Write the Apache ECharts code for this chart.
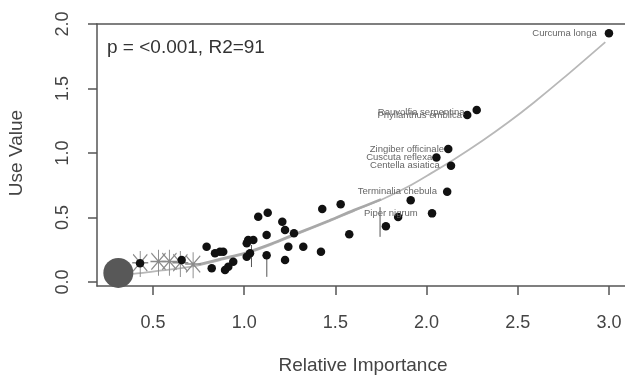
<!DOCTYPE html>
<html><head><meta charset="utf-8">
<script src="https://cdn.jsdelivr.net/npm/echarts@6/dist/echarts.min.js"></script>
<style>html,body{margin:0;padding:0;background:#fff}#c{width:625px;height:379px}</style>
</head><body><div id="c"></div>
<script>
// ---- data ----
const xTicks = [0.5, 1.0, 1.5, 2.0, 2.5, 3.0];
const yTicks = [0.0, 0.5, 1.0, 1.5, 2.0];
const pointX = [3.00, 2.275, 2.223, 2.119, 2.054, 2.134, 2.113, 1.913, 2.030, 1.844, 1.777,
  1.529, 1.428, 1.576, 1.421, 1.324, 1.242, 1.224, 1.273, 1.224, 1.209, 1.129, 1.077, 1.123, 1.123,
  1.050, 1.022, 1.014, 1.032, 1.014, 0.940, 0.913, 0.895, 0.885, 0.867, 0.840, 0.822, 0.794, 0.657, 0.429];
const pointY = [1.928, 1.333, 1.295, 1.031, 0.966, 0.902, 0.700, 0.633, 0.532, 0.504, 0.432,
  0.602, 0.566, 0.370, 0.235, 0.274, 0.274, 0.171, 0.377, 0.403, 0.467, 0.537, 0.506, 0.364, 0.207,
  0.326, 0.326, 0.300, 0.222, 0.196, 0.157, 0.119, 0.093, 0.235, 0.235, 0.222, 0.106, 0.274, 0.171, 0.145];
const pointName = ['Curcuma longa', 'Rauvolfia serpentina', 'Phyllanthus emblica', 'Zingiber officinale',
  'Cuscuta reflexa', 'Centella asiatica', 'Terminalia chebula', '', 'Piper nigrum'];
const curveX = [0.33, 0.43, 0.55, 0.71, 0.87, 1.015, 1.15, 1.28, 1.465, 1.60, 1.764, 1.90, 2.024, 2.15, 2.306, 2.45, 2.587, 2.75, 2.98];
const curveY = [0.055, 0.068, 0.09, 0.12, 0.17, 0.222, 0.29, 0.365, 0.47, 0.55, 0.645, 0.74, 0.842, 0.95, 1.095, 1.24, 1.39, 1.58, 1.86];
const bandX = [0.75, 0.87, 1.015, 1.15, 1.28, 1.465, 1.60, 1.75];
const bandY = [0.135, 0.178, 0.23, 0.297, 0.372, 0.476, 0.556, 0.64];
const blobX = [0.31], blobY = [0.07];
const sketchX = [0.43, 0.53, 0.59, 0.65, 0.72];
const sketchY = [0.14, 0.15, 0.15, 0.14, 0.13];
const leaderX = [1.124, 1.745, 1.04];
const leaderTop = [0.195, 0.58, 0.287];
const leaderBottom = [0.04, 0.35, 0.116];

const labelDist = {0: 8, 1: 8, 2: 1, 3: 0, 4: 0, 5: 7, 6: 6, 8: 10};
const pts = pointX.map((x, i) => {
  const item = { value: [x, pointY[i]] };
  if (pointName[i]) {
    item.label = { show: true, formatter: pointName[i], position: 'left', distance: labelDist[i],
      offset: i === 1 ? [0, 2] : [0, 0] };
  }
  return item;
});
const font = "'Liberation Sans', Arial, sans-serif";
const series = [
  { type: 'line', data: curveX.map((x, i) => [x, curveY[i]]), smooth: 0.3, symbol: 'none',
    lineStyle: { color: '#b8b8b8', width: 1.8 }, z: 2 },
  { type: 'line', data: bandX.map((x, i) => [x, bandY[i]]), smooth: 0.3, symbol: 'none',
    lineStyle: { color: '#a8a8a8', width: 2.5 }, z: 2 },
  { type: 'scatter', data: blobX.map((x, i) => [x, blobY[i]]), symbolSize: 30,
    itemStyle: { color: '#585858', opacity: 1 }, z: 3 },
  { type: 'scatter', data: sketchX.map((x, i) => [x, sketchY[i]]), symbolSize: [16, 26],
    symbol: 'path://M0,-10L0,12M-8,-7L8,7M-8,7L8,-7M-9,0L9,0',
    itemStyle: { color: 'rgba(0,0,0,0)', borderColor: '#8a8a8a', borderWidth: 1.2, opacity: 1 }, z: 3 },
  { type: 'scatter', data: pts, symbolSize: 8.5, itemStyle: { color: '#111', opacity: 1 }, z: 5,
    label: { fontFamily: font, fontSize: 9.5, color: '#666' } }
];
leaderX.forEach((x, i) => {
  series.push({ type: 'line', data: [[x, leaderTop[i]], [x, leaderBottom[i]]], symbol: 'none',
    lineStyle: { color: '#555', width: 1 }, z: 4 });
});

const chart = echarts.init(document.getElementById('c'));
const lineCol = '#555';
chart.setOption({
  animation: false,
  grid: { left: 97, top: 24, right: 0, bottom: 93 },
  xAxis: [{
    type: 'value', min: 0.193, max: 3.088, position: 'bottom',
    axisLine: { show: true, onZero: false, lineStyle: { color: lineCol, width: 1.5 } }, splitLine: { show: false },
    axisTick: { show: true, length: 9, lineStyle: { color: lineCol, width: 1.5 }, customValues: xTicks },
    axisLabel: { customValues: xTicks, formatter: v => v.toFixed(1), margin: 28,
      fontFamily: font, fontSize: 18, color: '#444' }
  }, {
    type: 'value', min: 0.193, max: 3.088, position: 'top',
    axisLine: { show: true, onZero: false, lineStyle: { color: lineCol, width: 1.5 } },
    axisTick: { show: false }, axisLabel: { show: false }, splitLine: { show: false }
  }],
  yAxis: {
    type: 'value', min: -0.031, max: 2.0,
    axisLine: { show: true, onZero: false, lineStyle: { color: lineCol, width: 1.5 } }, splitLine: { show: false },
    axisTick: { show: true, length: 9, lineStyle: { color: lineCol, width: 1.5 }, customValues: yTicks },
    axisLabel: { customValues: yTicks, formatter: v => v.toFixed(1), rotate: 90, margin: 25,
      fontFamily: font, fontSize: 18, color: '#444' }
  },
  graphic: [
    { type: 'text', x: 363, y: 366, style: { text: 'Relative Importance', font: '19px ' + font,
      fill: '#444', textAlign: 'center', textVerticalAlign: 'middle' } },
    { type: 'text', x: 17, y: 153, rotation: Math.PI / 2, style: { text: 'Use Value', font: '19px ' + font,
      fill: '#444', textAlign: 'center', textVerticalAlign: 'middle' } },
    { type: 'text', x: 107, y: 48, style: { text: 'p = <0.001, R2=91', font: '19px ' + font,
      fill: '#333', textAlign: 'left', textVerticalAlign: 'middle' } }
  ],
  series: series
});
</script></body></html>
